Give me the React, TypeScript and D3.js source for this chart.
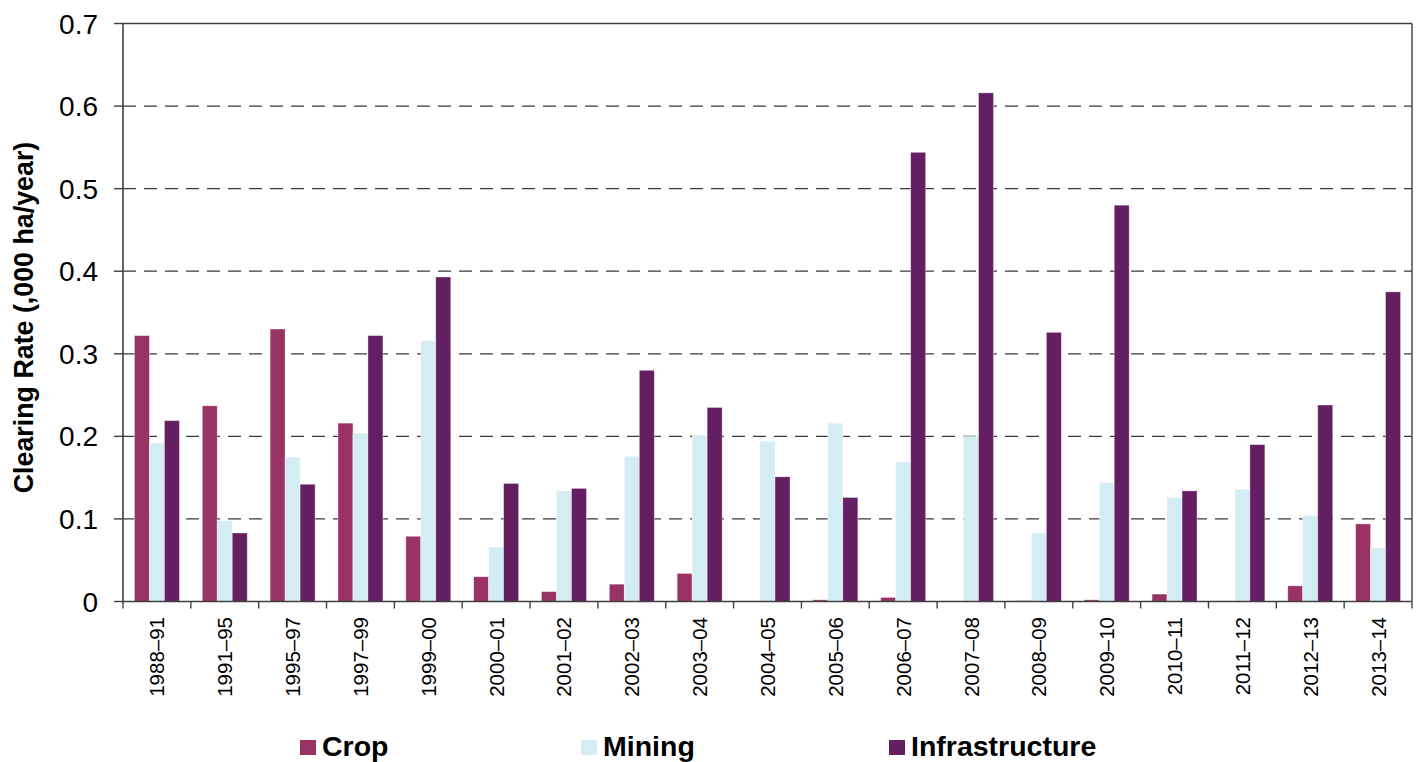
import React from "react";
import * as d3 from "d3";

const categories = [
  "1988–91", "1991–95", "1995–97", "1997–99", "1999–00", "2000–01", "2001–02",
  "2002–03", "2003–04", "2004–05", "2005–06", "2006–07", "2007–08", "2008–09",
  "2009–10", "2010–11", "2011–12", "2012–13", "2013–14",
];
const seriesNames = ["Crop", "Mining", "Infrastructure"];
const crop = [0.322, 0.237, 0.330, 0.216, 0.079, 0.030, 0.012, 0.021, 0.034, 0, 0.002, 0.005, 0, 0.001, 0.002, 0.009, 0, 0.019, 0.094];
const mining = [0.192, 0.098, 0.175, 0.204, 0.316, 0.066, 0.134, 0.176, 0.201, 0.194, 0.216, 0.169, 0.200, 0.083, 0.144, 0.126, 0.136, 0.104, 0.065];
const infrastructure = [0.219, 0.083, 0.142, 0.322, 0.393, 0.143, 0.137, 0.280, 0.235, 0.151, 0.126, 0.544, 0.616, 0.326, 0.480, 0.134, 0.190, 0.238, 0.375];
const yTicks = [0, 0.1, 0.2, 0.3, 0.4, 0.5, 0.6, 0.7];
const yTickLabels = ["0", "0.1", "0.2", "0.3", "0.4", "0.5", "0.6", "0.7"];
const colors = ["#993366", "#D4EDF4", "#631F61"];
const yTitle = "Clearing Rate (,000 ha/year)";

const W = 1423;
const H = 762;
const left = 123;
const right = 1412;
const top = 23.5;
const bottom = 601.5;
const font = "'Liberation Sans', Arial, sans-serif";

export default function App() {
  const values = [crop, mining, infrastructure];
  const x = d3.scaleBand<string>().domain(categories).range([left, right])
    .paddingInner(0.337).paddingOuter(0.337 / 2);
  const xs = d3.scaleBand<string>().domain(seriesNames).range([0, x.bandwidth()]);
  const y = d3.scaleLinear().domain([0, 0.7]).range([bottom, top]);
  const step = x.step();
  const boundaries = d3.range(categories.length + 1).map((i) => left + i * step);
  const legendX = [300, 581, 889];

  return (
    <div style={{ position: "absolute", left: 0, top: 0 }}>
      <svg width={W} height={H} style={{ display: "block", fontFamily: font }}>
        <rect x={0} y={0} width={W} height={H} fill="#fff" />
        {yTicks.filter((t) => t > 0 && t < 0.7).map((t) => (
          <line key={"g" + t} x1={left} x2={right} y1={y(t)} y2={y(t)}
            stroke="#3a3a3a" strokeWidth={1.3} strokeDasharray="13 8" />
        ))}
        {categories.map((c, i) => (
          <g key={c} transform={`translate(${x(c)},0)`}>
            {seriesNames.map((s, j) => {
              const v = values[j][i];
              if (v <= 0) return null;
              return (
                <rect key={s} x={xs(s)} y={y(v)} width={xs.bandwidth()}
                  height={bottom - y(v)} fill={colors[j]}
                  stroke="#ffffff" strokeOpacity={0.45} strokeWidth={0.8} />
              );
            })}
          </g>
        ))}
        <line x1={left} x2={right} y1={top} y2={top} stroke="#404040" strokeWidth={1.4} />
        <line x1={right} x2={right} y1={top} y2={bottom} stroke="#404040" strokeWidth={1.4} />
        <line x1={left} x2={left} y1={top} y2={bottom} stroke="#404040" strokeWidth={1.6} />
        <line x1={left} x2={right} y1={bottom} y2={bottom} stroke="#404040" strokeWidth={1.6} />
        {yTicks.map((t, i) => (
          <g key={"yt" + t}>
            <line x1={left - 9} x2={left} y1={y(t)} y2={y(t)} stroke="#404040" strokeWidth={1.4} />
            <text x={98} y={y(t) + 10} textAnchor="end" fontSize={28} fill="#000">{yTickLabels[i]}</text>
          </g>
        ))}
        {boundaries.map((bx, i) => (
          <line key={"xt" + i} x1={bx} x2={bx} y1={bottom} y2={bottom + 7} stroke="#404040" strokeWidth={1.4} />
        ))}
        {categories.map((c) => {
          const cx = (x(c) as number) + x.bandwidth() / 2;
          return (
            <text key={"xl" + c} transform={`translate(${cx + 7.5},617) rotate(-90)`}
              textAnchor="end" fontSize={20.5} fill="#000">{c}</text>
          );
        })}
        <text transform={`translate(33,317.5) rotate(-90)`} textAnchor="middle"
          fontSize={26.8} fontWeight="bold" fill="#000">{yTitle}</text>
        {seriesNames.map((s, j) => (
          <g key={"lg" + s}>
            <rect x={legendX[j]} y={740} width={16} height={15} fill={colors[j]} />
            <text x={legendX[j] + 22} y={756} fontSize={28.5} fontWeight="bold" fill="#000">{s}</text>
          </g>
        ))}
      </svg>
    </div>
  );
}
